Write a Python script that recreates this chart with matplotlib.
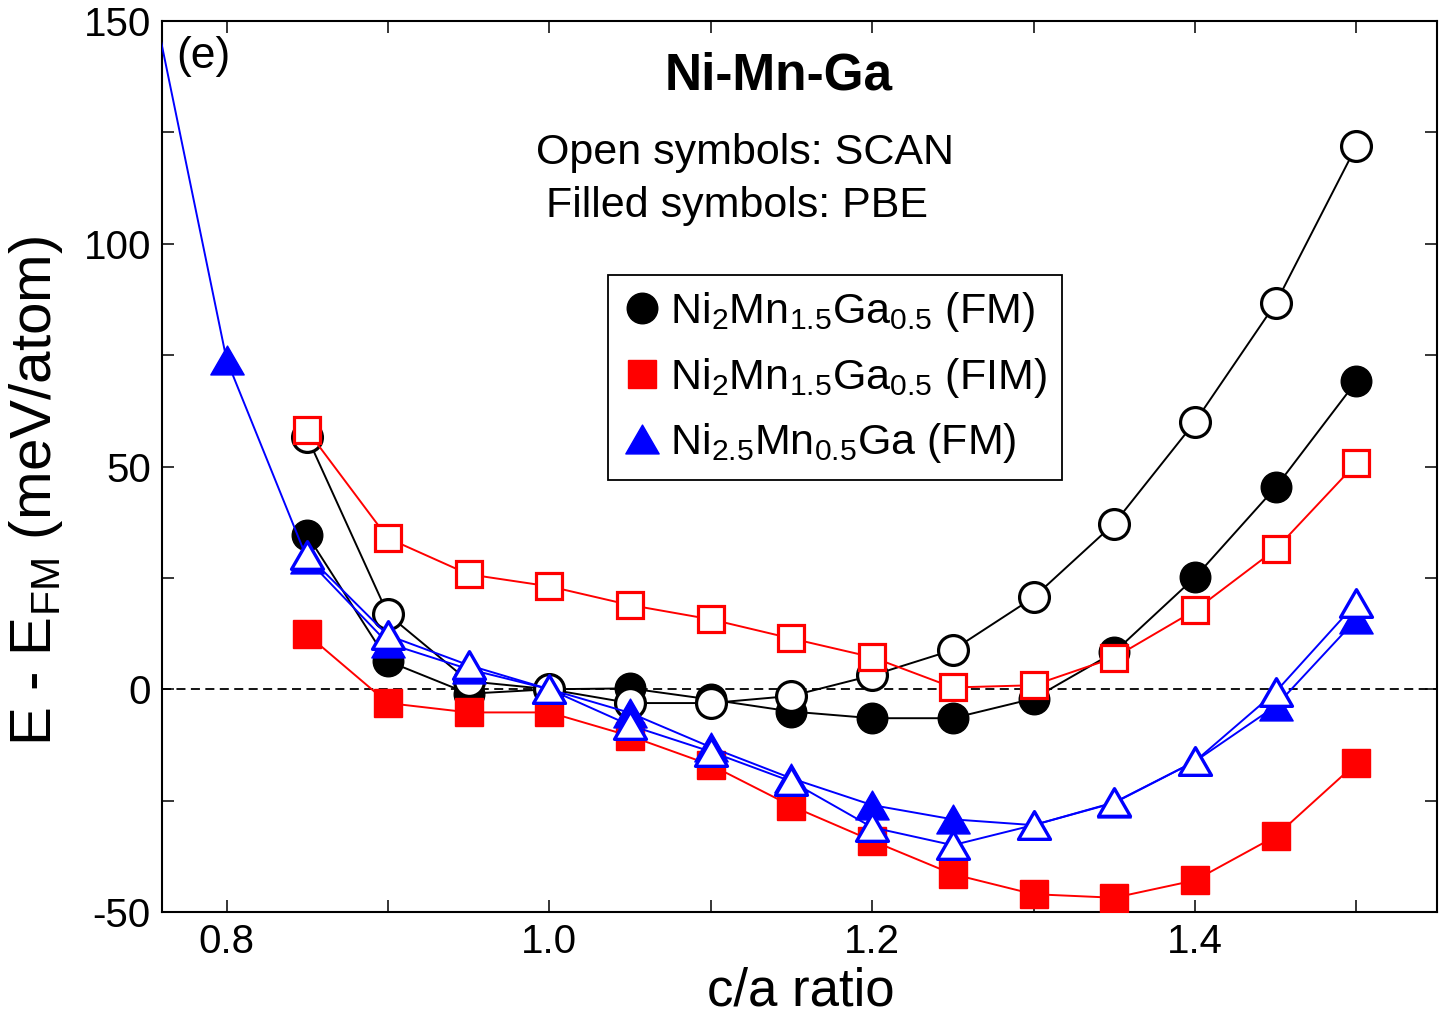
import numpy as np
import matplotlib
matplotlib.use("Agg")
import matplotlib.pyplot as plt
from matplotlib.path import Path
from matplotlib.markers import MarkerStyle
from matplotlib.lines import Line2D
from matplotlib.ticker import MultipleLocator

plt.rcParams['font.family'] = ['Liberation Sans', 'DejaVu Sans']
plt.rcParams['mathtext.fontset'] = 'custom'
plt.rcParams['mathtext.rm'] = 'Liberation Sans'
plt.rcParams['mathtext.it'] = 'Liberation Sans:italic'
plt.rcParams['mathtext.bf'] = 'Liberation Sans:bold'
plt.rcParams['mathtext.default'] = 'regular'

# ---------------- data ----------------
ca = [0.85, 0.90, 0.95, 1.00, 1.05, 1.10, 1.15, 1.20, 1.25, 1.30, 1.35, 1.40, 1.45, 1.50]

fm_pbe = [34.6, 6.3, -1.0, 0.0, 0.2, -2.3, -5.0, -6.5, -6.5, -2.1, 8.3, 25.1, 45.3, 69.1]
fm_scan = [56.6, 16.8, 1.8, 0.0, -3.1, -3.1, -1.5, 3.1, 8.8, 20.6, 37.2, 60.0, 86.6, 121.9]

fim_pbe = [12.3, -3.1, -5.2, -5.2, -10.5, -17.0, -26.2, -34.0, -41.5, -46.0, -46.8, -42.9, -33.0, -16.6]
fim_scan = [58.1, 33.9, 25.8, 23.1, 18.9, 15.7, 11.4, 7.2, 0.4, 0.9, 7.1, 17.7, 31.4, 50.7]

ca_ni = [0.75, 0.80, 0.85, 0.90, 0.95, 1.00, 1.05, 1.10, 1.15, 1.20, 1.25, 1.30, 1.35, 1.40, 1.45, 1.50]
ni_pbe = [162.0, 74.0, 29.2, 10.3, 4.5, 0.0, -5.3, -13.0, -20.0, -26.0, -29.2, -30.5, -25.5, -16.2, -3.8, 15.7]
ca_ni_scan = [0.85, 0.90, 0.95, 1.00, 1.05, 1.10, 1.15, 1.20, 1.25, 1.30, 1.35, 1.40, 1.45, 1.50]
ni_scan = [30.1, 12.1, 5.4, 0.0, -8.1, -14.0, -20.7, -31.0, -35.0, -30.5, -25.4, -16.2, -0.6, 19.4]

legend_labels = [r'Ni$_2$Mn$_{1.5}$Ga$_{0.5}$ (FM)',
                 r'Ni$_2$Mn$_{1.5}$Ga$_{0.5}$ (FIM)',
                 r'Ni$_{2.5}$Mn$_{0.5}$Ga (FM)']

x_ticks = [0.8, 1.0, 1.2, 1.4]
x_ticklabels = ['0.8', '1.0', '1.2', '1.4']
y_ticks = [-50, 0, 50, 100, 150]
y_ticklabels = ['-50', '0', '50', '100', '150']

# ---------------- figure ----------------
W, H = 1442, 1015
fig = plt.figure(figsize=(W / 100, H / 100), dpi=100)
ax = fig.add_axes([162 / W, 1 - 912 / H, (1437 - 162) / W, (912 - 21) / H])

tri_verts = [(0, 0.866), (-1, -0.866), (1, -0.866), (0, 0.866)]
tri_path = Path(tri_verts, [Path.MOVETO, Path.LINETO, Path.LINETO, Path.CLOSEPOLY])
tri = MarkerStyle(tri_path, joinstyle='miter')

lw = 1.4
ax.axhline(0, color='black', lw=1.3, ls=(0, (5, 3)), zorder=1)

# black circles
ax.plot(ca, fm_pbe, '-', color='black', lw=lw, marker='o', ms=22,
        mfc='black', mec='black', mew=1.0, zorder=2)
ax.plot(ca, fm_scan, '-', color='black', lw=lw, marker='o', ms=21.5,
        mfc='white', mec='black', mew=2.3, zorder=3)
# red squares
ax.plot(ca, fim_pbe, '-', color='red', lw=lw, marker='s', ms=19.5,
        mfc='red', mec='red', mew=1.0, zorder=4)
ax.plot(ca, fim_scan, '-', color='red', lw=lw, marker='s', ms=18.5,
        mfc='white', mec='red', mew=2.3, zorder=5)
# blue triangles
ax.plot(ca_ni, ni_pbe, '-', color='blue', lw=lw, marker=tri, ms=24,
        mfc='blue', mec='blue', mew=1.0, zorder=6)
ax.plot(ca_ni_scan, ni_scan, '-', color='blue', lw=lw, marker=tri, ms=23,
        mfc='white', mec='blue', mew=2.4, zorder=7)

ax.set_xlim(0.76, 1.55)
ax.set_ylim(-50, 150)
ax.set_xticks(x_ticks)
ax.set_xticklabels(x_ticklabels)
ax.set_yticks(y_ticks)
ax.set_yticklabels(y_ticklabels)
ax.xaxis.set_minor_locator(MultipleLocator(0.1))
ax.yaxis.set_minor_locator(MultipleLocator(25))
ax.tick_params(which='both', direction='in', length=8.5, width=1.1,
               top=True, right=True, labelsize=29, pad=8)
for s in ax.spines.values():
    s.set_linewidth(1.5)

fig.text(801 / W, 1 - 991 / H, 'c/a ratio', fontsize=38, ha='center', va='center')
fig.text(36 / W, 1 - 491 / H, r'E - E$_{FM}$ (meV/atom)', fontsize=42,
         rotation=90, ha='center', va='center')

fig.text(176 / W, 1 - 68 / H, '(e)', fontsize=32, ha='left', va='baseline')
fig.text(779 / W, 1 - 90 / H, 'Ni-Mn-Ga', fontsize=37, fontweight='bold',
         ha='center', va='baseline')
fig.text(745 / W, 1 - 164 / H, 'Open symbols: SCAN', fontsize=31,
         ha='center', va='baseline')
fig.text(737 / W, 1 - 217 / H, 'Filled symbols: PBE', fontsize=31,
         ha='center', va='baseline')

handles = [
    Line2D([], [], ls='none', marker='o', ms=22, mfc='black', mec='black', mew=1.0),
    Line2D([], [], ls='none', marker='s', ms=19.5, mfc='red', mec='red', mew=1.0),
    Line2D([], [], ls='none', marker=tri, ms=24, mfc='blue', mec='blue', mew=1.0),
]
leg = fig.legend(handles, legend_labels, loc='upper left',
                 bbox_to_anchor=(608 / W, 1 - 275 / H), borderaxespad=0,
                 fontsize=31, frameon=True, fancybox=False, framealpha=1,
                 edgecolor='black', handlelength=0.9, handletextpad=0.2,
                 borderpad=0.35, labelspacing=0.5)
leg.get_frame().set_linewidth(1.3)

fig.savefig('out.png', dpi=100)
